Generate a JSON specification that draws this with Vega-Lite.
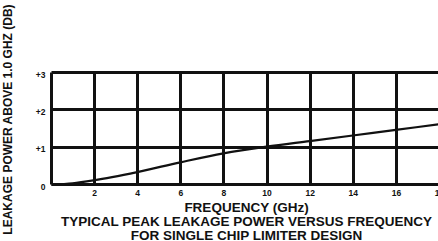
{
  "$schema": "https://vega.github.io/schema/vega-lite/v6.json",
  "autosize": "none",
  "width": 388,
  "height": 112,
  "padding": {"left": 51, "top": 72, "right": 0, "bottom": 57},
  "background": "white",
  "config": {
    "view": {"stroke": null},
    "font": "Liberation Sans"
  },
  "data": {
    "values": [
      {"f": 0.6, "p": 0.0},
      {"f": 1.0, "p": 0.02},
      {"f": 2.0, "p": 0.1},
      {"f": 4.0, "p": 0.32},
      {"f": 6.0, "p": 0.58},
      {"f": 8.0, "p": 0.82},
      {"f": 10.0, "p": 1.0},
      {"f": 12.0, "p": 1.15},
      {"f": 14.0, "p": 1.3},
      {"f": 16.0, "p": 1.45},
      {"f": 18.0, "p": 1.6}
    ]
  },
  "mark": {"type": "line", "color": "#111", "strokeWidth": 2.2, "interpolate": "monotone", "clip": true},
  "encoding": {
    "x": {
      "field": "f",
      "type": "quantitative",
      "scale": {"domain": [0, 18], "nice": false},
      "axis": {
        "values": [2, 4, 6, 8, 10, 12, 14, 16, 18],
        "title": ["FREQUENCY (GHz)", "TYPICAL PEAK LEAKAGE POWER VERSUS FREQUENCY", "FOR SINGLE CHIP LIMITER DESIGN"],
        "titleFontSize": 13.5,
        "titleFontWeight": "bold",
        "titleColor": "#111",
        "titleX": 195,
        "titleY": 27.5,
        "titleLineHeight": 14,
        "titleBaseline": "alphabetic",
        "titleAnchor": null,
        "titleAlign": "center",
        "labelFontSize": 8.5,
        "labelFontWeight": "bold",
        "labelColor": "#111",
        "labelPadding": 4,
        "labelFlush": false,
        "ticks": false,
        "domain": true,
        "domainColor": "#111",
        "domainWidth": 3,
        "grid": true,
        "gridColor": "#111",
        "gridWidth": 3,
        "gridOpacity": 1
      }
    },
    "y": {
      "field": "p",
      "type": "quantitative",
      "scale": {"domain": [0, 3], "nice": false},
      "axis": {
        "values": [0, 1, 2, 3],
        "labelExpr": "datum.value > 0 ? '+' + datum.value : '0'",
        "title": "LEAKAGE POWER ABOVE 1.0 GHZ (DB)",
        "titleFontSize": 12,
        "titleFontWeight": "bold",
        "titleColor": "#111",
        "titleX": -44,
        "titleY": 47,
        "titleAngle": -90,
        "titleBaseline": "middle",
        "titleAlign": "center",
        "titleAnchor": null,
        "labelFontSize": 8.5,
        "labelFontWeight": "bold",
        "labelColor": "#111",
        "labelPadding": 6,
        "labelOffset": 2,
        "ticks": false,
        "domain": true,
        "domainColor": "#111",
        "domainWidth": 3,
        "grid": true,
        "gridColor": "#111",
        "gridWidth": 3,
        "gridOpacity": 1
      }
    }
  }
}
